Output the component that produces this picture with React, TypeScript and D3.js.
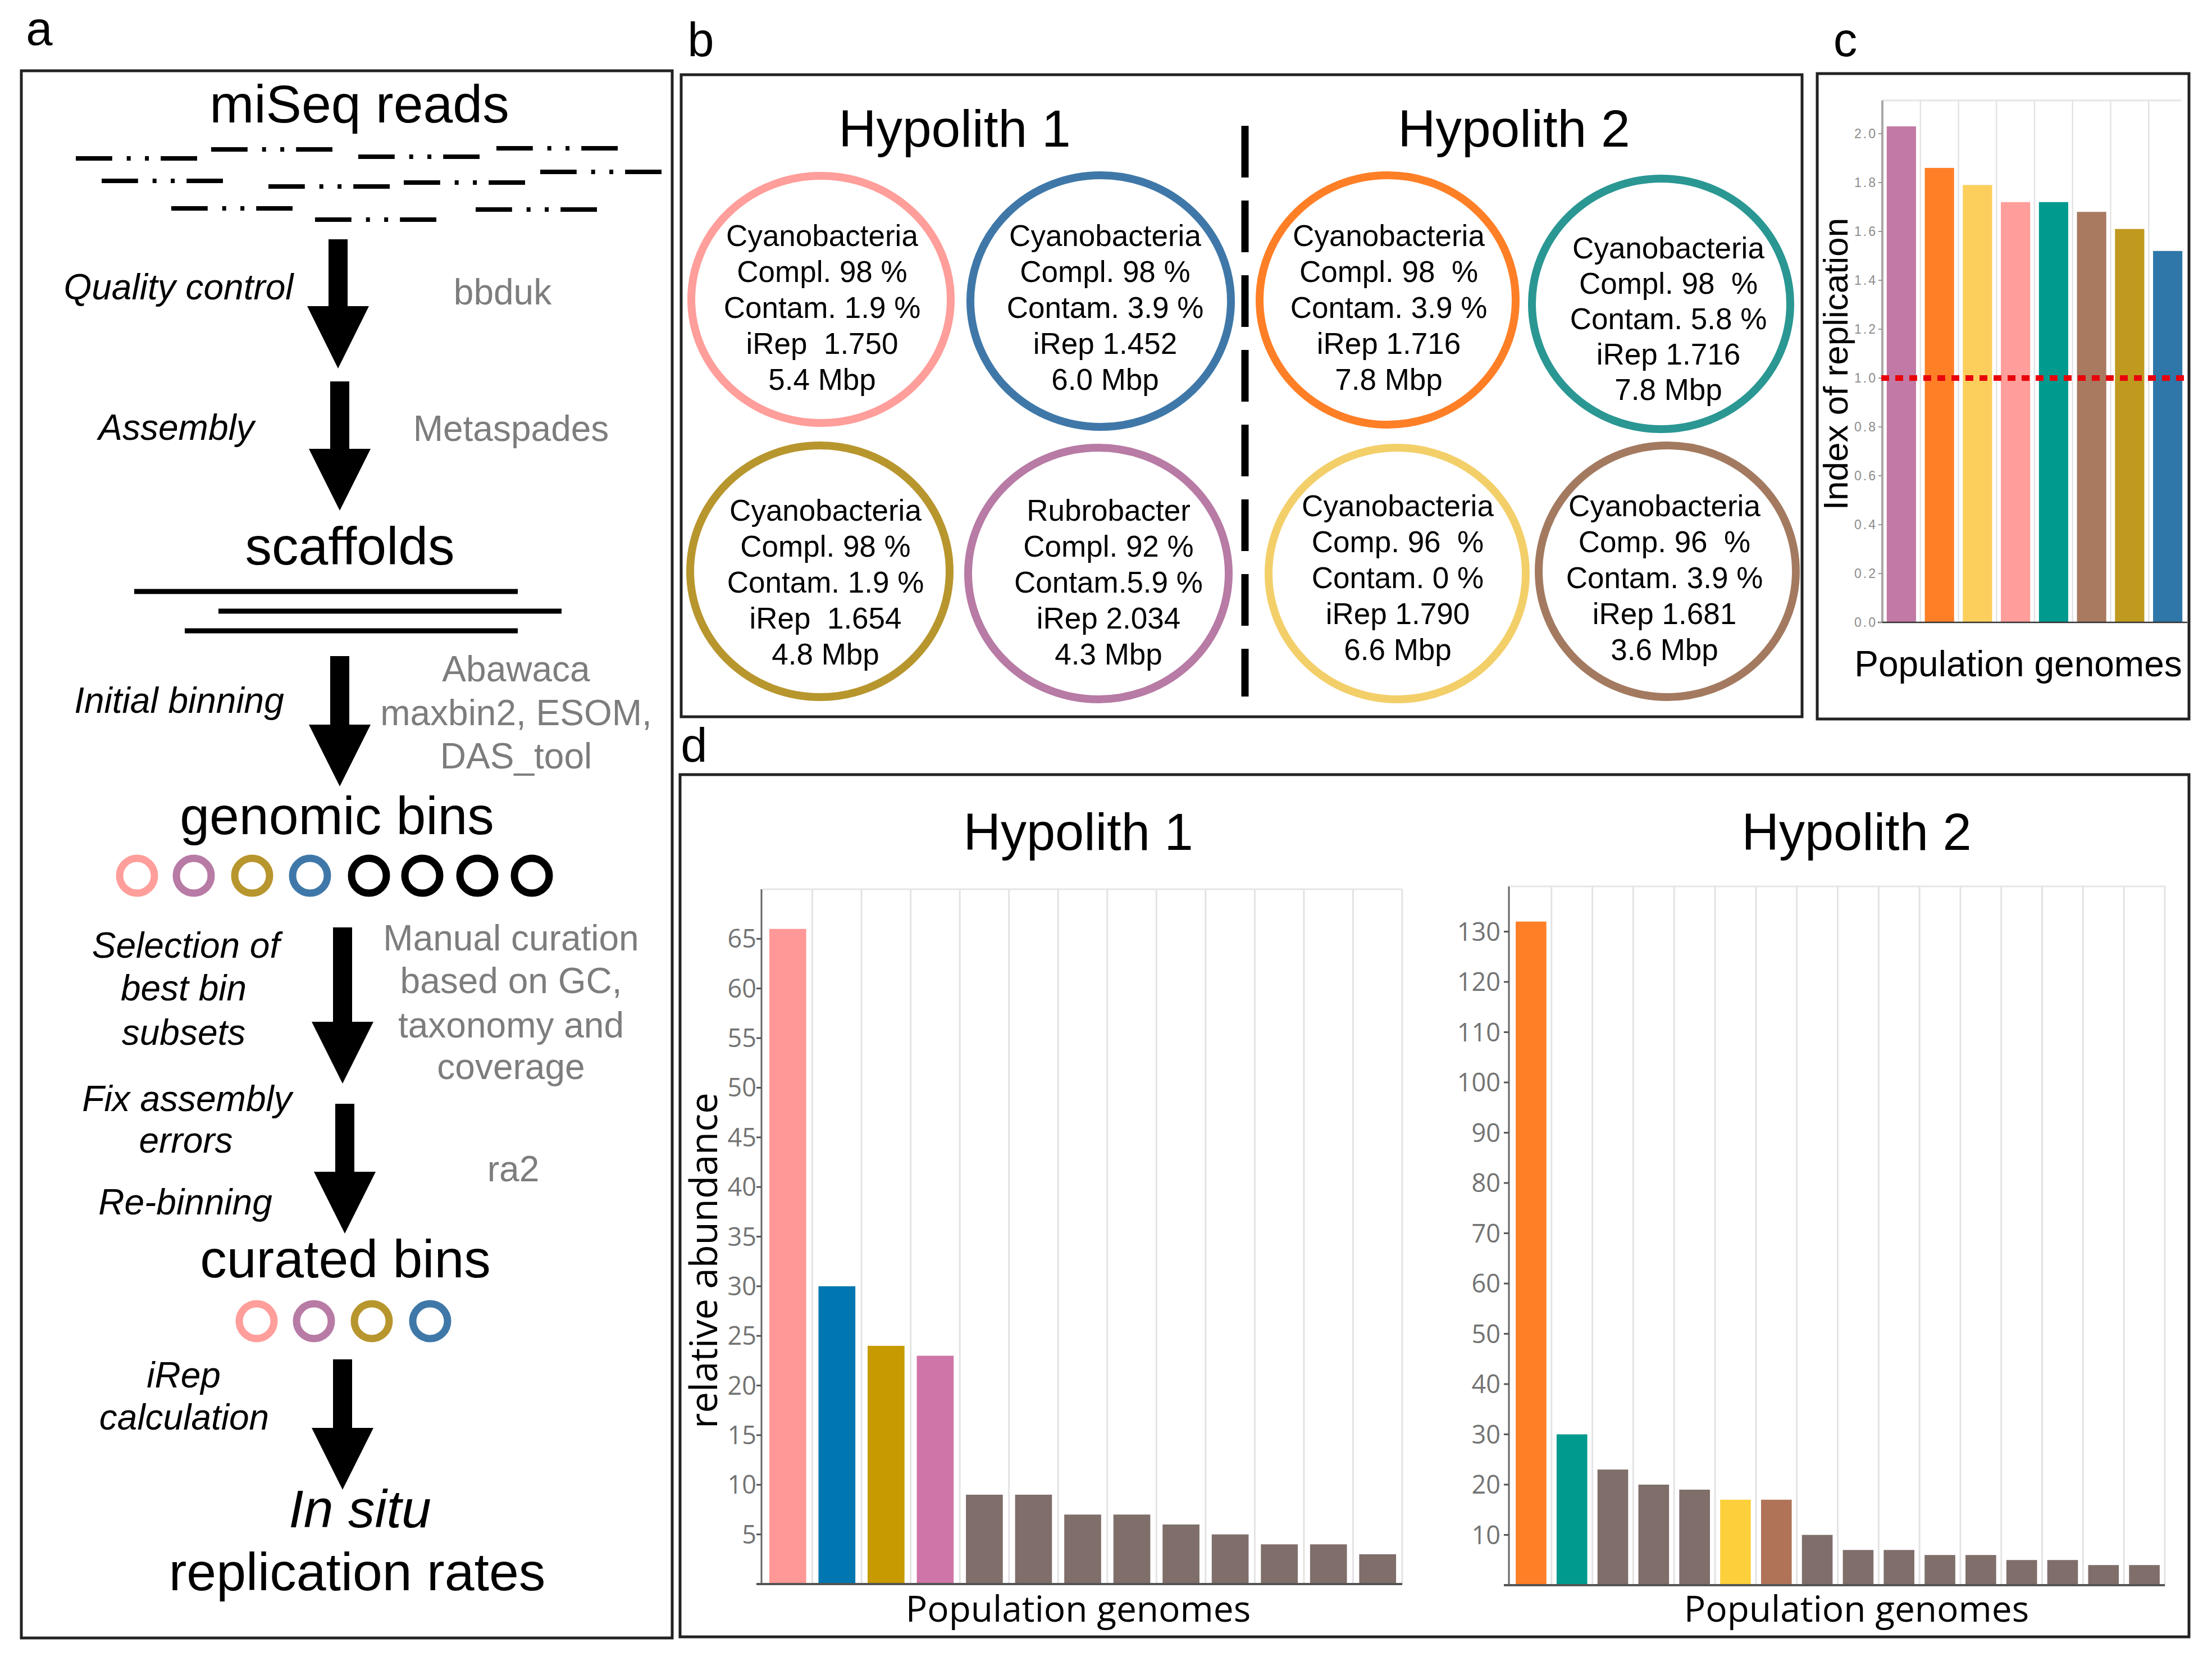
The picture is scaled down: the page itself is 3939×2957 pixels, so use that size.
import React from 'react';
import * as d3 from 'd3';

const W = 3939;
const H = 2957;

// ---- data ----
// panel b: curated bins per hypolith
const binTaxa = ['Cyanobacteria', 'Cyanobacteria', 'Cyanobacteria', 'Rubrobacter', 'Cyanobacteria', 'Cyanobacteria', 'Cyanobacteria', 'Cyanobacteria'];
const binCompl = ['Compl. 98 %', 'Compl. 98 %', 'Compl. 98 %', 'Compl. 92 %', 'Compl. 98  %', 'Compl. 98  %', 'Comp. 96  %', 'Comp. 96  %'];
const binContam = ['Contam. 1.9 %', 'Contam. 3.9 %', 'Contam. 1.9 %', 'Contam.5.9 %', 'Contam. 3.9 %', 'Contam. 5.8 %', 'Contam. 0 %', 'Contam. 3.9 %'];
const binIRep = ['iRep  1.750', 'iRep 1.452', 'iRep  1.654', 'iRep 2.034', 'iRep 1.716', 'iRep 1.716', 'iRep 1.790', 'iRep 1.681'];
const binSize = ['5.4 Mbp', '6.0 Mbp', '4.8 Mbp', '4.3 Mbp', '7.8 Mbp', '7.8 Mbp', '6.6 Mbp', '3.6 Mbp'];
const binColors = ['#ff9e9a', '#3f78a8', '#b8962e', '#b77ba5', '#ff7f27', '#2a9793', '#f3cf6a', '#a37a60'];

// panel c: index of replication
const replicationGenomes = ['Rubrobacter H1', 'Cyano H2-a', 'Cyano H2-c', 'Cyano H1-a', 'Cyano H2-b', 'Cyano H2-d', 'Cyano H1-c', 'Cyano H1-b'];
const replicationValues = [2.03, 1.86, 1.79, 1.72, 1.72, 1.68, 1.61, 1.52];
const replicationColors = ['#c279a5', '#ff7f27', '#fccf5c', '#ff9e9a', '#009a8f', '#a97a60', '#bf9a1e', '#2e77a8'];
const replicationTicks = [0, 0.2, 0.4, 0.6, 0.8, 1.0, 1.2, 1.4, 1.6, 1.8, 2.0];

// panel d: relative abundance
const hypolith1Abundance = [66, 30, 24, 23, 9, 9, 7, 7, 6, 5, 4, 4, 3];
const hypolith1Colors = ['#ff9896', '#0077b0', '#c69a00', '#cf75a8', '#7f6e6a', '#7f6e6a', '#7f6e6a', '#7f6e6a', '#7f6e6a', '#7f6e6a', '#7f6e6a', '#7f6e6a', '#7f6e6a'];
const hypolith1Ticks = [5, 10, 15, 20, 25, 30, 35, 40, 45, 50, 55, 60, 65];
const hypolith2Abundance = [132, 30, 23, 20, 19, 17, 17, 10, 7, 7, 6, 6, 5, 5, 4, 4];
const hypolith2Colors = ['#ff7f27', '#009a8f', '#7f6e6a', '#7f6e6a', '#7f6e6a', '#fdd03b', '#b07358', '#7f6e6a', '#7f6e6a', '#7f6e6a', '#7f6e6a', '#7f6e6a', '#7f6e6a', '#7f6e6a', '#7f6e6a', '#7f6e6a'];
const hypolith2Ticks = [10, 20, 30, 40, 50, 60, 70, 80, 90, 100, 110, 120, 130];

// panel a: workflow bins
const genomicBinColors = ['#ff9e9a', '#b77ba5', '#b8962e', '#3f78a8', '#000', '#000', '#000', '#000'];
const curatedBinColors = ['#ff9e9a', '#b77ba5', '#b8962e', '#3f78a8'];

const SANS = '"Liberation Sans", Arial, Helvetica, sans-serif';
const OPEN = '"Open Sans", "Liberation Sans", sans-serif';
const GREY = '#7d7d7d';

function Arrow({ x, top, headTop, tip }: { x: number; top: number; headTop: number; tip: number }) {
  const sw = 17;
  const hw = 55;
  const p = `M${x - sw},${top} L${x + sw},${top} L${x + sw},${headTop} L${x + hw},${headTop} L${x},${tip} L${x - hw},${headTop} L${x - sw},${headTop} Z`;
  return <path d={p} fill="#000" />;
}

function Read({ x, y }: { x: number; y: number }) {
  const L = 216;
  return (
    <g stroke="#000" strokeWidth={8}>
      <line x1={x} x2={x + L * 0.3} y1={y} y2={y} />
      <line x1={x + L * 0.42} x2={x + L * 0.42 + 7} y1={y} y2={y} />
      <line x1={x + L * 0.57} x2={x + L * 0.57 + 7} y1={y} y2={y} />
      <line x1={x + L * 0.7} x2={x + L} y1={y} y2={y} />
    </g>
  );
}

function PanelA() {
  const reads = [
    [135, 282], [376, 266], [638, 279], [884, 264],
    [181, 322], [478, 332], [719, 325], [962, 306],
    [305, 371], [561, 391], [847, 373],
  ];
  const big = { fontFamily: SANS, fontSize: 95, textAnchor: 'middle' as const, fill: '#000' };
  const ital = { fontFamily: SANS, fontSize: 64, fontStyle: 'italic', textAnchor: 'middle' as const, fill: '#000' };
  const grey = { fontFamily: SANS, fontSize: 64, textAnchor: 'middle' as const, fill: GREY };
  const gx = [244, 345, 449, 552, 657, 752, 850, 947];
  const cx = [457, 559, 662, 766];
  return (
    <g>
      <rect x={38} y={126} width={1159} height={2790} fill="none" stroke="#222" strokeWidth={5} />
      <text x={640} y={218} {...big}>miSeq reads</text>
      {reads.map(([x, y], i) => <Read key={i} x={x} y={y} />)}
      <Arrow x={602} top={426} headTop={545} tip={656} />
      <text x={318} y={533} {...ital}>Quality control</text>
      <text x={895} y={542} {...grey}>bbduk</text>
      <Arrow x={605} top={679} headTop={799} tip={909} />
      <text x={314} y={783} {...ital}>Assembly</text>
      <text x={910} y={785} {...grey}>Metaspades</text>
      <text x={623} y={1005} {...big}>scaffolds</text>
      <g stroke="#000" strokeWidth={9}>
        <line x1={239} x2={922} y1={1053} y2={1053} />
        <line x1={389} x2={1000} y1={1088} y2={1088} />
        <line x1={329} x2={922} y1={1123} y2={1123} />
      </g>
      <Arrow x={605} top={1168} headTop={1290} tip={1400} />
      <text x={319} y={1269} {...ital}>Initial binning</text>
      <text x={919} y={1213} {...grey}>Abawaca</text>
      <text x={919} y={1291} {...grey}>maxbin2, ESOM,</text>
      <text x={919} y={1368} {...grey}>DAS_tool</text>
      <text x={600} y={1485} {...big}>genomic bins</text>
      {genomicBinColors.map((c, i) => (
        <circle key={i} cx={gx[i]} cy={1559} r={31} fill="none" stroke={c} strokeWidth={13} />
      ))}
      <Arrow x={610} top={1651} headTop={1819} tip={1929} />
      <text x={331} y={1705} {...ital}>Selection of</text>
      <text x={327} y={1781} {...ital}>best bin</text>
      <text x={327} y={1860} {...ital}>subsets</text>
      <text x={910} y={1692} {...grey}>Manual curation</text>
      <text x={910} y={1768} {...grey}>based on GC,</text>
      <text x={910} y={1847} {...grey}>taxonomy and</text>
      <text x={910} y={1921} {...grey}>coverage</text>
      <Arrow x={614} top={1965} headTop={2086} tip={2196} />
      <text x={333} y={1978} {...ital}>Fix assembly</text>
      <text x={331} y={2052} {...ital}>errors</text>
      <text x={914} y={2103} {...grey}>ra2</text>
      <text x={330} y={2162} {...ital}>Re-binning</text>
      <text x={615} y={2274} {...big}>curated bins</text>
      {curatedBinColors.map((c, i) => (
        <circle key={i} cx={cx[i]} cy={2352} r={31} fill="none" stroke={c} strokeWidth={13} />
      ))}
      <Arrow x={610} top={2420} headTop={2542} tip={2652} />
      <text x={327} y={2470} {...ital}>iRep</text>
      <text x={328} y={2545} {...ital}>calculation</text>
      <text x={641} y={2719} {...big} fontStyle="italic">In situ</text>
      <text x={636} y={2831} {...big}>replication rates</text>
    </g>
  );
}

function PanelB() {
  // ellipse layout (centre, radii, first text baseline, line step)
  const layout = [
    [1462, 533, 231, 220, 1464, 438, 64],
    [1960, 536, 232, 224, 1968, 438, 64],
    [1460, 1017, 231, 224, 1470, 927, 64],
    [1956, 1021, 232, 224, 1974, 927, 64],
    [2471, 534, 228, 222, 2473, 438, 64],
    [2958, 541, 230, 223, 2971, 460, 63],
    [2488, 1021, 229, 224, 2489, 919, 64],
    [2969, 1017, 229, 224, 2964, 919, 64],
  ];
  return (
    <g>
      <rect x={1213} y={133} width={1996} height={1143} fill="none" stroke="#222" strokeWidth={5} />
      <text x={1700} y={261} fontFamily={SANS} fontSize={93} textAnchor="middle">Hypolith 1</text>
      <text x={2696} y={261} fontFamily={SANS} fontSize={93} textAnchor="middle">Hypolith 2</text>
      <line x1={2217} x2={2217} y1={224} y2={1240} stroke="#000" strokeWidth={13} strokeDasharray="92 41" />
      {binTaxa.map((taxon, i) => {
        const [ex, ey, rx, ry, tx, ty, step] = layout[i];
        const lines = [taxon, binCompl[i], binContam[i], binIRep[i], binSize[i]];
        return (
          <g key={i}>
            <ellipse cx={ex} cy={ey} rx={rx} ry={ry} fill="none" stroke={binColors[i]} strokeWidth={14} />
            {lines.map((t, j) => (
              <text key={j} x={tx} y={ty + j * step} fontFamily={SANS} fontSize={53} textAnchor="middle" style={{ whiteSpace: 'pre' }}>
                {t}
              </text>
            ))}
          </g>
        );
      })}
    </g>
  );
}

function PanelC() {
  const x = d3.scaleBand<string>().domain(replicationGenomes).range([3352, 3894]).paddingInner(0.23).paddingOuter(0.115);
  const y = d3.scaleLinear().domain([0, 2]).range([1108, 238]);
  const top = y(2.136);
  const left = 3352;
  const right = 3895;
  const fmt = d3.format('.1f');
  return (
    <g>
      <rect x={3236} y={131} width={662} height={1149} fill="none" stroke="#222" strokeWidth={5} />
      <line x1={left} x2={right - 10} y1={top} y2={top} stroke="#e6e6e6" strokeWidth={3} />
      {replicationGenomes.map((g, i) => {
        const gxp = (x(g) as number) + x.bandwidth() + (x.step() - x.bandwidth()) / 2;
        return i < replicationGenomes.length - 1 ? (
          <line key={g} x1={gxp} x2={gxp} y1={top} y2={y(0)} stroke="#e3e3e3" strokeWidth={2.5} />
        ) : null;
      })}
      {replicationGenomes.map((g, i) => (
        <rect key={g} x={x(g)} y={y(replicationValues[i])} width={x.bandwidth()} height={y(0) - y(replicationValues[i])} fill={replicationColors[i]} />
      ))}
      <line x1={left} x2={left} y1={top} y2={y(0)} stroke="#a8a8a8" strokeWidth={4} />
      <line x1={left - 8} x2={right} y1={y(0)} y2={y(0)} stroke="#333" strokeWidth={2.5} />
      {replicationTicks.map((t) => (
        <g key={t}>
          <line x1={left - 7} x2={left} y1={y(t)} y2={y(t)} stroke="#999" strokeWidth={2} />
          <text x={left - 9} y={y(t) + 8} fontFamily={SANS} fontSize={23} fill="#8c8c8c" textAnchor="end" letterSpacing={3}>
            {fmt(t)}
          </text>
        </g>
      ))}
      <line x1={left - 2} x2={3890} y1={y(1)} y2={y(1)} stroke="#e8000b" strokeWidth={10} strokeDasharray="14 11" />
      <text transform={`translate(3290,648) rotate(-90)`} fontFamily={SANS} fontSize={62} textAnchor="middle">
        Index of replication
      </text>
      <text x={3594} y={1204} fontFamily={SANS} fontSize={64} textAnchor="middle">Population genomes</text>
    </g>
  );
}

function AbundanceChart({
  values, colors, ticks, x0, x1, yMax, yBottom, yTopValue, title, titleX, tickX,
}: {
  values: number[]; colors: string[]; ticks: number[]; x0: number; x1: number; yMax: number; yBottom: number; yTopValue: number; title: string; titleX: number; tickX: number;
}) {
  const idx = values.map((_, i) => String(i));
  const x = d3.scaleBand<string>().domain(idx).range([x0, x1]).paddingInner(0.25).paddingOuter(0.125);
  const y = d3.scaleLinear().domain([0, yTopValue]).range([yBottom, yMax]);
  const grid = idx.map((_, i) => x0 + (i + 1) * x.step());
  return (
    <g>
      <text x={titleX} y={1513} fontFamily={SANS} fontSize={92} textAnchor="middle">{title}</text>
      <line x1={x0} x2={x1} y1={yMax} y2={yMax} stroke="#e6e6e6" strokeWidth={3} />
      {grid.map((g, i) => (
        <line key={i} x1={g} x2={g} y1={yMax} y2={yBottom} stroke="#e3e3e3" strokeWidth={3} />
      ))}
      {values.map((v, i) => (
        <rect key={i} x={x(String(i))} y={y(v)} width={x.bandwidth()} height={yBottom - y(v)} fill={colors[i]} />
      ))}
      <line x1={x0 - 3} x2={x0 - 3} y1={yMax} y2={yBottom} stroke="#666" strokeWidth={3} />
      <line x1={x0 - 12} x2={x1} y1={yBottom} y2={yBottom} stroke="#555" strokeWidth={4} />
      {ticks.map((t) => (
        <g key={t}>
          <line x1={x0 - 12} x2={x0 - 3} y1={y(t)} y2={y(t)} stroke="#555" strokeWidth={3} />
          <text x={tickX} y={y(t) + 16} fontFamily={OPEN} fontSize={45} fill="#737373" textAnchor="end">{t}</text>
        </g>
      ))}
      <text x={titleX} y={2887} fontFamily={OPEN} fontSize={64} textAnchor="middle">Population genomes</text>
    </g>
  );
}

function PanelD() {
  return (
    <g>
      <rect x={1211} y={1379} width={2687} height={1535} fill="none" stroke="#222" strokeWidth={5} />
      <AbundanceChart values={hypolith1Abundance} colors={hypolith1Colors} ticks={hypolith1Ticks}
        x0={1359} x1={2497} yMax={1583} yBottom={2820} yTopValue={70} title="Hypolith 1" titleX={1920} tickX={1347} />
      <AbundanceChart values={hypolith2Abundance} colors={hypolith2Colors} ticks={hypolith2Ticks}
        x0={2690} x1={3855} yMax={1578} yBottom={2822} yTopValue={139} title="Hypolith 2" titleX={3306} tickX={2672} />
      <text transform="translate(1277,2244) rotate(-90)" fontFamily={OPEN} fontSize={67} textAnchor="middle">
        relative abundance
      </text>
    </g>
  );
}

export default function App() {
  return (
    <svg width={W} height={H} viewBox={`0 0 ${W} ${H}`} style={{ position: 'absolute', left: 0, top: 0, background: '#fff' }}>
      <rect width={W} height={H} fill="#fff" />
      <text x={70} y={80} fontFamily={SANS} fontSize={85} textAnchor="middle">a</text>
      <text x={1248} y={100} fontFamily={SANS} fontSize={85} textAnchor="middle">b</text>
      <text x={3286} y={100} fontFamily={SANS} fontSize={85} textAnchor="middle">c</text>
      <text x={1236} y={1356} fontFamily={SANS} fontSize={85} textAnchor="middle">d</text>
      <PanelA />
      <PanelB />
      <PanelC />
      <PanelD />
    </svg>
  );
}
